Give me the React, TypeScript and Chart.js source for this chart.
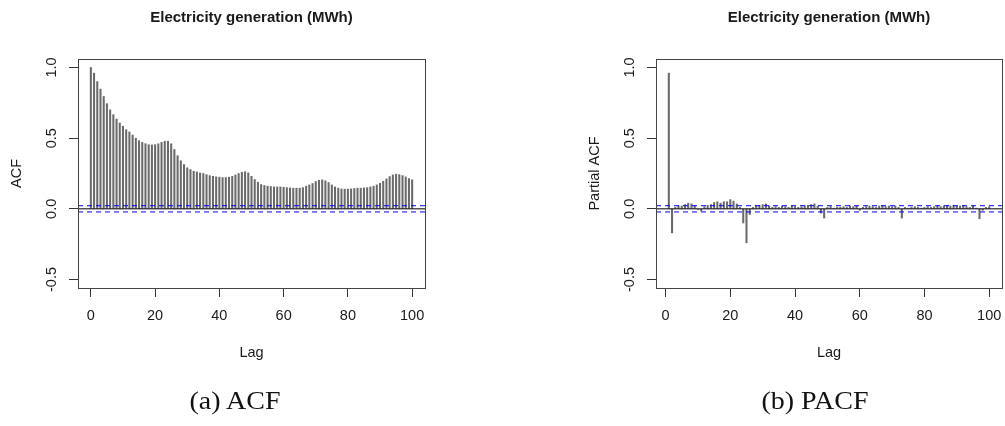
import React, { useEffect, useRef } from "react";
import { Chart, registerables } from "chart.js";
Chart.register(...registerables);

const TITLE = "Electricity generation (MWh)";
const X_TICKS = [0, 20, 40, 60, 80, 100];
const Y_TICKS = [-0.5, 0, 0.5, 1];
const CI = 0.022;

// ACF, lags 0..100
const ACF_VALUES = [
  1.0, 0.96, 0.9, 0.847, 0.795, 0.744, 0.7, 0.666, 0.635, 0.607,
  0.584, 0.56, 0.544, 0.522, 0.5, 0.482, 0.47, 0.461, 0.454, 0.452,
  0.454, 0.46, 0.47, 0.478, 0.478, 0.46, 0.42, 0.376, 0.34, 0.313,
  0.29, 0.278, 0.266, 0.261, 0.254, 0.25, 0.242, 0.235, 0.23, 0.226,
  0.224, 0.221, 0.221, 0.224, 0.23, 0.24, 0.25, 0.259, 0.263, 0.254,
  0.23, 0.207, 0.188, 0.172, 0.165, 0.16, 0.158, 0.155, 0.155, 0.155,
  0.153, 0.15, 0.148, 0.146, 0.146, 0.146, 0.15, 0.16, 0.169, 0.179,
  0.193, 0.202, 0.205, 0.198, 0.186, 0.169, 0.155, 0.146, 0.141, 0.139,
  0.139, 0.141, 0.144, 0.146, 0.146, 0.148, 0.15, 0.155, 0.16, 0.169,
  0.181, 0.195, 0.212, 0.228, 0.24, 0.245, 0.242, 0.235, 0.226, 0.214,
  0.205,
];

// PACF, lags 1..100
const PACF_VALUES = [
  0.96, -0.17, 0.01, 0.02, 0.02, 0.03, 0.04, 0.035, 0.02, -0.005,
  -0.015, 0.015, 0.025, 0.03, 0.045, 0.05, 0.04, 0.05, 0.05, 0.065,
  0.055, 0.035, 0.01, -0.1, -0.24, -0.04, 0.01, 0.02, 0.025, 0.03,
  0.035, 0.02, 0.01, 0.015, 0.01, 0.02, 0.015, 0.01, 0.02, 0.015,
  0.01, 0.015, 0.02, 0.025, 0.03, 0.035, 0.02, -0.03, -0.065, 0.01,
  0.015, 0.005, 0.01, 0.01, 0.015, 0.01, 0.02, 0.015, 0.02, -0.01,
  0.01, 0.015, 0.02, 0.015, 0.01, 0.02, 0.025, 0.015, 0.02, 0.015,
  0.02, 0.01, -0.065, 0.01, 0.005, 0.01, 0.015, 0.01, 0.005, 0.01,
  0.015, 0.01, 0.015, 0.02, 0.015, 0.02, 0.025, 0.02, 0.025, 0.02,
  0.02, 0.025, 0.015, 0.01, 0.02, 0.005, -0.07, -0.01, 0.01, 0.015,
];

const H = 426;
const BOX_TOP = 59;
const BOX_BOTTOM = 288;

type Spec = {
  firstLag: number;
  values: number[];
  xMin: number;
  xMax: number;
  yLabel: string;
  yAxisWidth: number;
  rightPad: number;
};

function makePlugin(spec: Spec) {
  return {
    id: "rtext",
    afterDraw(chart: any) {
      const { ctx, chartArea: a } = chart;
      const x = chart.scales.x;
      const y = chart.scales.y;
      ctx.save();
      ctx.strokeStyle = "#444";
      ctx.lineWidth = 1;
      ctx.strokeRect(
        Math.round(a.left) + 0.5,
        Math.round(a.top) + 0.5,
        Math.round(a.right - a.left),
        Math.round(a.bottom - a.top)
      );
      ctx.fillStyle = "#1a1a1a";
      ctx.textAlign = "center";
      ctx.textBaseline = "middle";
      const cx = (a.left + a.right) / 2;
      ctx.font = 'bold 15px "Liberation Sans", Arial, sans-serif';
      ctx.fillText(TITLE, cx, 18);
      ctx.font = '14.5px "Liberation Sans", Arial, sans-serif';
      X_TICKS.forEach((v) => ctx.fillText(String(v), x.getPixelForValue(v), 316));
      ctx.fillText("Lag", cx, 353);
      Y_TICKS.forEach((v) => {
        ctx.save();
        ctx.translate(a.left - 26, y.getPixelForValue(v));
        ctx.rotate(-Math.PI / 2);
        ctx.fillText(v.toFixed(1), 0, 0);
        ctx.restore();
      });
      ctx.save();
      ctx.translate(a.left - 61.5, (a.top + a.bottom) / 2);
      ctx.rotate(-Math.PI / 2);
      ctx.fillText(spec.yLabel, 0, 0);
      ctx.restore();
      ctx.restore();
    },
  };
}

function makeConfig(spec: Spec): any {
  const bars = spec.values.map((v, i) => ({ x: spec.firstLag + i, y: v }));
  const hline = (v: number) => [
    { x: spec.xMin, y: v },
    { x: spec.xMax, y: v },
  ];
  return {
    type: "bar",
    data: {
      datasets: [
        {
          type: "line",
          data: hline(CI),
          borderColor: "#0000ff",
          borderWidth: 1,
          borderDash: [5, 4],
          pointRadius: 0,
          order: 1,
        },
        {
          type: "line",
          data: hline(-CI),
          borderColor: "#0000ff",
          borderWidth: 1,
          borderDash: [5, 4],
          pointRadius: 0,
          order: 1,
        },
        {
          type: "line",
          data: hline(0),
          borderColor: "#000",
          borderWidth: 1,
          pointRadius: 0,
          order: 2,
        },
        {
          type: "bar",
          data: bars,
          backgroundColor: "#6a6a6a",
          barThickness: 1.4,
          grouped: false,
          order: 3,
        },
      ],
    },
    options: {
      responsive: false,
      animation: false,
      devicePixelRatio: 1,
      layout: { padding: { top: BOX_TOP, right: spec.rightPad, left: 0, bottom: 0 } },
      plugins: { legend: { display: false }, tooltip: { enabled: false }, title: { display: false } },
      scales: {
        x: {
          type: "linear",
          min: spec.xMin,
          max: spec.xMax,
          offset: false,
          afterBuildTicks: (s: any) => {
            s.ticks = X_TICKS.map((v) => ({ value: v }));
          },
          afterFit: (s: any) => {
            s.height = H - BOX_BOTTOM;
          },
          ticks: { display: false },
          border: { display: false },
          grid: {
            offset: false,
            drawOnChartArea: false,
            drawTicks: true,
            tickLength: 9,
            color: "#333",
            lineWidth: 1,
          },
        },
        y: {
          type: "linear",
          min: -0.56,
          max: 1.06,
          afterBuildTicks: (s: any) => {
            s.ticks = Y_TICKS.map((v) => ({ value: v }));
          },
          afterFit: (s: any) => {
            s.width = spec.yAxisWidth;
          },
          ticks: { display: false },
          border: { display: false },
          grid: {
            drawOnChartArea: false,
            drawTicks: true,
            tickLength: 9,
            color: "#333",
            lineWidth: 1,
          },
        },
      },
    },
    plugins: [makePlugin(spec)],
  };
}

function RChart({ spec, left, width }: { spec: Spec; left: number; width: number }) {
  const ref = useRef<HTMLCanvasElement>(null);
  useEffect(() => {
    if (!ref.current) return;
    const chart = new Chart(ref.current, makeConfig(spec));
    return () => chart.destroy();
  }, []);
  return (
    <canvas
      ref={ref}
      width={width}
      height={H}
      style={{ position: "absolute", left, top: 0, width, height: H }}
    />
  );
}

const captionStyle: React.CSSProperties = {
  position: "absolute",
  top: 386,
  width: 240,
  textAlign: "center",
  fontFamily: '"Liberation Serif", "DejaVu Serif", serif',
  fontSize: 25,
  lineHeight: "30px",
  color: "#111",
  transform: "scaleX(1.12)",
};

export default function App() {
  const acfSpec: Spec = {
    firstLag: 0,
    values: ACF_VALUES,
    xMin: -4,
    xMax: 104,
    yLabel: "ACF",
    yAxisWidth: 78,
    rightPad: 15,
  };
  const pacfSpec: Spec = {
    firstLag: 1,
    values: PACF_VALUES,
    xMin: -2.96,
    xMax: 103.96,
    yLabel: "Partial ACF",
    yAxisWidth: 151,
    rightPad: 3,
  };
  return (
    <div style={{ position: "absolute", left: 0, top: 0, width: 1005, height: 426, background: "#fff" }}>
      <RChart spec={acfSpec} left={0} width={440} />
      <RChart spec={pacfSpec} left={505} width={500} />
      <div style={{ ...captionStyle, left: 235 - 120 }}>(a) ACF</div>
      <div style={{ ...captionStyle, left: 815 - 120 }}>(b) PACF</div>
    </div>
  );
}
